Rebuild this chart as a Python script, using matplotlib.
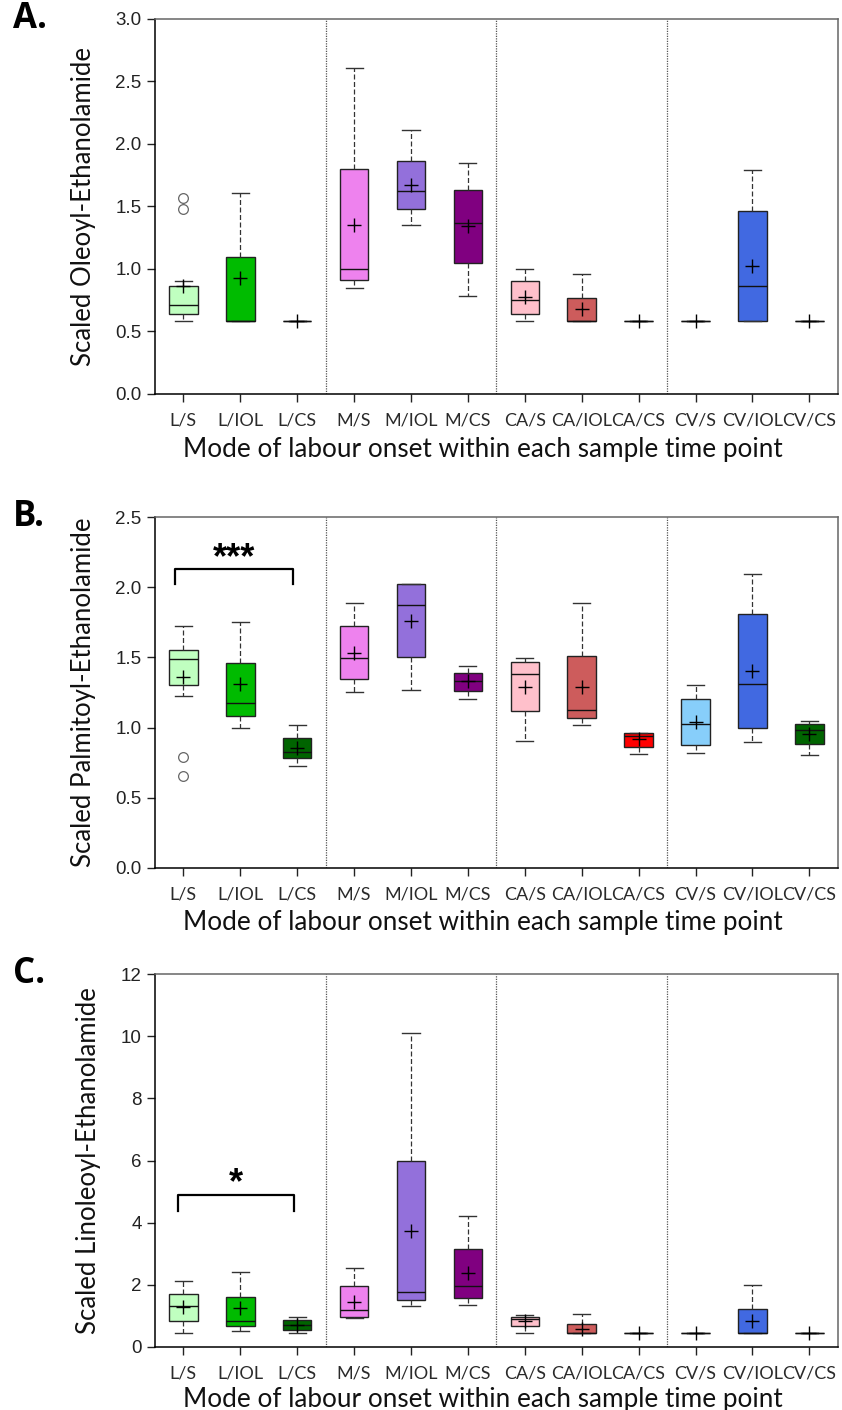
import numpy as np
import matplotlib
matplotlib.use("Agg")
import matplotlib.pyplot as plt

# groups: sample time point / mode of labour onset
groups = ["L/S", "L/IOL", "L/CS", "M/S", "M/IOL", "M/CS",
          "CA/S", "CA/IOL", "CA/CS", "CV/S", "CV/IOL", "CV/CS"]
colors = ["#c0ffc0", "#00bb00", "#006400", "#ee82ee", "#9370db", "#800080",
          "#ffc0cb", "#cd5c5c", "#ff0000", "#87cefa", "#4169e1", "#006400"]

# A. oleoyl-ethanolamide
oea_q1 = [0.64, 0.584, 0.584, 0.912, 1.48, 1.048, 0.64, 0.584, 0.584, 0.584, 0.584, 0.584]
oea_med = [0.712, 0.584, 0.584, 0.997, 1.62, 1.365, 0.755, 0.584, 0.584, 0.584, 0.864, 0.584]
oea_q3 = [0.864, 1.093, 0.584, 1.80, 1.864, 1.635, 0.906, 0.77, 0.584, 0.584, 1.464, 0.584]
oea_lo = [0.584, 0.584, 0.584, 0.848, 1.35, 0.78, 0.584, 0.584, 0.584, 0.584, 0.584, 0.584]
oea_hi = [0.90, 1.605, 0.584, 2.605, 2.11, 1.85, 1.0, 0.963, 0.584, 0.584, 1.795, 0.584]
oea_mean = [0.86, 0.925, 0.584, 1.355, 1.67, 1.344, 0.774, 0.677, 0.584, 0.584, 1.024, 0.584]
oea_out = {0: [1.57, 1.48]}

# B. palmitoyl-ethanolamide
pea_q1 = [1.301, 1.083, 0.781, 1.344, 1.50, 1.261, 1.118, 1.068, 0.862, 0.876, 0.995, 0.881]
pea_med = [1.486, 1.173, 0.828, 1.494, 1.871, 1.330, 1.379, 1.123, 0.938, 1.023, 1.311, 0.983]
pea_q3 = [1.555, 1.458, 0.924, 1.721, 2.02, 1.391, 1.465, 1.508, 0.964, 1.206, 1.809, 1.026]
pea_lo = [1.225, 0.995, 0.724, 1.254, 1.268, 1.206, 0.905, 1.021, 0.814, 0.821, 0.895, 0.807]
pea_hi = [1.726, 1.754, 1.018, 1.885, 2.025, 1.441, 1.498, 1.890, 0.964, 1.301, 2.096, 1.049]
pea_mean = [1.363, 1.308, 0.852, 1.533, 1.759, 1.33, 1.287, 1.287, 0.917, 1.040, 1.403, 0.952]
pea_out = {0: [0.79, 0.657]}

# C. linoleoyl-ethanolamide
lea_q1 = [0.82, 0.67, 0.54, 0.97, 1.50, 1.56, 0.66, 0.44, 0.44, 0.44, 0.44, 0.44]
lea_med = [1.31, 0.83, 0.70, 1.18, 1.76, 1.97, 0.89, 0.44, 0.44, 0.44, 0.44, 0.44]
lea_q3 = [1.72, 1.61, 0.88, 1.96, 5.98, 3.16, 0.96, 0.74, 0.44, 0.44, 1.21, 0.44]
lea_lo = [0.44, 0.52, 0.44, 0.94, 1.31, 1.34, 0.44, 0.44, 0.44, 0.44, 0.44, 0.44]
lea_hi = [2.13, 2.40, 0.97, 2.53, 10.10, 4.23, 1.03, 1.06, 0.44, 0.44, 2.00, 0.44]
lea_mean = [1.29, 1.25, 0.70, 1.46, 3.73, 2.37, 0.83, 0.59, 0.44, 0.44, 0.84, 0.44]
lea_out = {}

TICK_FONT = ["Lato", "DejaVu Sans"]
NUM_FONT = ["Liberation Sans", "DejaVu Sans"]


def make_stats(q1, med, q3, lo, hi, mean, out):
    stats = []
    for i in range(len(q1)):
        stats.append(dict(q1=q1[i], med=med[i], q3=q3[i], whislo=lo[i],
                          whishi=hi[i], mean=mean[i], fliers=out.get(i, [])))
    return stats


def draw_panel(ax, stats, ylim, yticks, ytick_fmt, ylabel, letter, xlab_y,
               sig=None):
    pos = np.arange(len(groups))
    bp = ax.bxp(stats, positions=pos, widths=0.5, capwidths=0.3,
                patch_artist=True, showmeans=True, showfliers=True,
                boxprops=dict(edgecolor="#222222", linewidth=1.0),
                medianprops=dict(color="#111111", linewidth=1.0),
                whiskerprops=dict(color="#333333", linewidth=0.9,
                                  linestyle=(0, (4, 2))),
                capprops=dict(color="#333333", linewidth=1.0),
                meanprops=dict(marker="+", markersize=10, markeredgecolor="black",
                               markeredgewidth=1.0),
                flierprops=dict(marker="o", markersize=7, markerfacecolor="none",
                                markeredgecolor="#666666", markeredgewidth=0.9))
    for patch, c in zip(bp["boxes"], colors):
        patch.set_facecolor(c)

    # dividers between time points
    for xv in (2.5, 5.5, 8.5):
        ax.axvline(xv, color="#555555", linestyle=(0, (1, 1)), linewidth=0.9)

    ax.set_xlim(-0.5, 11.5)
    ax.set_ylim(*ylim)
    ax.set_yticks(yticks)
    ax.set_yticklabels([ytick_fmt.format(v) for v in yticks],
                       family=NUM_FONT, fontsize=13.5, color="#222222")
    ax.set_xticks(pos)
    ax.set_xticklabels(groups, family=TICK_FONT, fontsize=13, color="#2a2a2a")
    ax.tick_params(axis="both", direction="out", length=6, width=1.0,
                   color="#222222")
    ax.tick_params(axis="x", pad=7)
    for side in ("top", "right"):
        ax.spines[side].set_color("#666666")
    for side in ("left", "bottom"):
        ax.spines[side].set_color("black")
    for sp in ax.spines.values():
        sp.set_linewidth(1.1)

    ax.set_xlabel("Mode of labour onset within each sample time point",
                  family=TICK_FONT, fontsize=18.8, color="#111111")
    ax.xaxis.set_label_coords(0.48, xlab_y)
    ax.set_ylabel(ylabel, family=TICK_FONT, fontsize=18.5, labelpad=14,
                  color="#111111")
    ax.text(-0.208, 1.0, letter, transform=ax.transAxes, fontsize=25,
            fontweight="bold", family=["Open Sans", "DejaVu Sans"],
            va="center", ha="left")

    if sig is not None:
        x0, x1, ybar, yleg, stars, ystar = sig
        ax.plot([x0, x0, x1, x1], [yleg, ybar, ybar, yleg], color="black",
                linewidth=1.6)
        ax.text((x0 + x1) / 2, ystar, stars, ha="center", va="center",
                fontsize=26, fontweight="bold", family=NUM_FONT)


fig = plt.figure(figsize=(8.42, 14.10), dpi=100)
ax_a = fig.add_axes([0.184, 0.7206, 0.811, 0.266])
ax_b = fig.add_axes([0.184, 0.3844, 0.811, 0.2489])
ax_c = fig.add_axes([0.184, 0.0447, 0.811, 0.2645])

draw_panel(ax_a, make_stats(oea_q1, oea_med, oea_q3, oea_lo, oea_hi, oea_mean, oea_out),
           (0, 3.0), [0, 0.5, 1.0, 1.5, 2.0, 2.5, 3.0], "{:.1f}",
           "Scaled Oleoyl-Ethanolamide", "A.", -0.115)
draw_panel(ax_b, make_stats(pea_q1, pea_med, pea_q3, pea_lo, pea_hi, pea_mean, pea_out),
           (0, 2.5), [0, 0.5, 1.0, 1.5, 2.0, 2.5], "{:.1f}",
           "Scaled Palmitoyl-Ethanolamide", "B.", -0.12,
           sig=(-0.14, 1.93, 2.13, 2.02, "***", 2.20))
draw_panel(ax_c, make_stats(lea_q1, lea_med, lea_q3, lea_lo, lea_hi, lea_mean, lea_out),
           (0, 12), [0, 2, 4, 6, 8, 10, 12], "{:d}",
           "Scaled Linoleoyl-Ethanolamide", "C.", -0.106,
           sig=(-0.1, 1.95, 4.9, 4.38, "*", 5.25))

fig.savefig("out.png", dpi=100)
